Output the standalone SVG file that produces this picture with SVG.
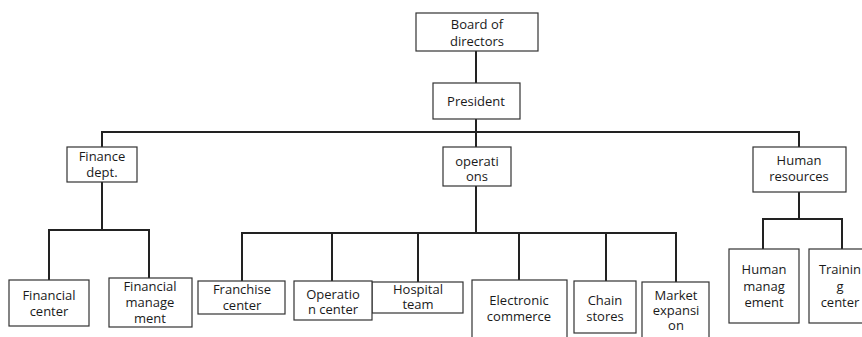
<svg xmlns="http://www.w3.org/2000/svg" width="862" height="337" viewBox="0 0 862 337">
<style>
.box{fill:#fff;stroke:#333;stroke-width:1.2}
.t{font-family:"Open Sans","Noto Sans",sans-serif;font-size:13px;fill:#1a1a1a;text-anchor:middle}
.c{fill:none;stroke:#222;stroke-width:2}
</style>
<rect width="862" height="337" fill="#fff"/>
<g id="connectors">
<path class="c" d="M476 51V83"/>
<path class="c" d="M476 119V147"/>
<path class="c" d="M102 147V132H799V147"/>
<path class="c" d="M102 182V230"/>
<path class="c" d="M49 280V230H149V278"/>
<path class="c" d="M476 186V233"/>
<path class="c" d="M242 281V233H676V282"/>
<path class="c" d="M332 233V281"/>
<path class="c" d="M418 233V282"/>
<path class="c" d="M519 233V280"/>
<path class="c" d="M606 233V281"/>
<path class="c" d="M799 192V219"/>
<path class="c" d="M763 249V219H842V249"/>
</g>
<g id="board"><rect class="box" x="416" y="13" width="122" height="38"/><text class="t" x="477" y="29">Board of</text><text class="t" x="477" y="46">directors</text></g>
<g id="president"><rect class="box" x="433" y="83" width="87" height="36"/><text class="t" x="476" y="106">President</text></g>
<g id="finance"><rect class="box" x="67" y="147" width="70" height="35"/><text class="t" x="102" y="161">Finance</text><text class="t" x="102" y="177">dept.</text></g>
<g id="operations"><rect class="box" x="443" y="147" width="68" height="39"/><text class="t" x="477" y="166">operati</text><text class="t" x="477" y="181">ons</text></g>
<g id="human-resources"><rect class="box" x="753" y="147" width="93" height="45"/><text class="t" x="799" y="165">Human</text><text class="t" x="799" y="181">resources</text></g>
<g id="financial-center"><rect class="box" x="9" y="280" width="80" height="46"/><text class="t" x="49" y="300">Financial</text><text class="t" x="49" y="316">center</text></g>
<g id="financial-management"><rect class="box" x="109" y="278" width="83" height="49"/><text class="t" x="150" y="291">Financial</text><text class="t" x="150" y="307">manage</text><text class="t" x="150" y="323">ment</text></g>
<g id="franchise-center"><rect class="box" x="198" y="281" width="87" height="33"/><text class="t" x="242" y="294">Franchise</text><text class="t" x="242" y="310">center</text></g>
<g id="hospital-team"><rect class="box" x="372" y="282" width="91" height="31"/><text class="t" x="418" y="294">Hospital</text><text class="t" x="418" y="309">team</text></g>
<g id="operation-center"><rect class="box" x="294" y="281" width="78" height="39"/><text class="t" x="333" y="299">Operatio</text><text class="t" x="333" y="314">n center</text></g>
<g id="electronic-commerce"><rect class="box" x="472" y="280" width="95" height="62"/><text class="t" x="519" y="305">Electronic</text><text class="t" x="519" y="321">commerce</text></g>
<g id="chain-stores"><rect class="box" x="574" y="281" width="62" height="52"/><text class="t" x="605" y="305">Chain</text><text class="t" x="605" y="321">stores</text></g>
<g id="market-expansion"><rect class="box" x="642" y="282" width="67" height="60"/><text class="t" x="676" y="300">Market</text><text class="t" x="676" y="315">expansi</text><text class="t" x="676" y="330">on</text></g>
<g id="human-management"><rect class="box" x="729" y="249" width="70" height="74"/><text class="t" x="764" y="274">Human</text><text class="t" x="764" y="291">manag</text><text class="t" x="764" y="307">ement</text></g>
<g id="training-center"><rect class="box" x="809" y="249" width="66" height="74"/><text class="t" x="840" y="274">Trainin</text><text class="t" x="840" y="291">g</text><text class="t" x="840" y="307">center</text></g>
</svg>
